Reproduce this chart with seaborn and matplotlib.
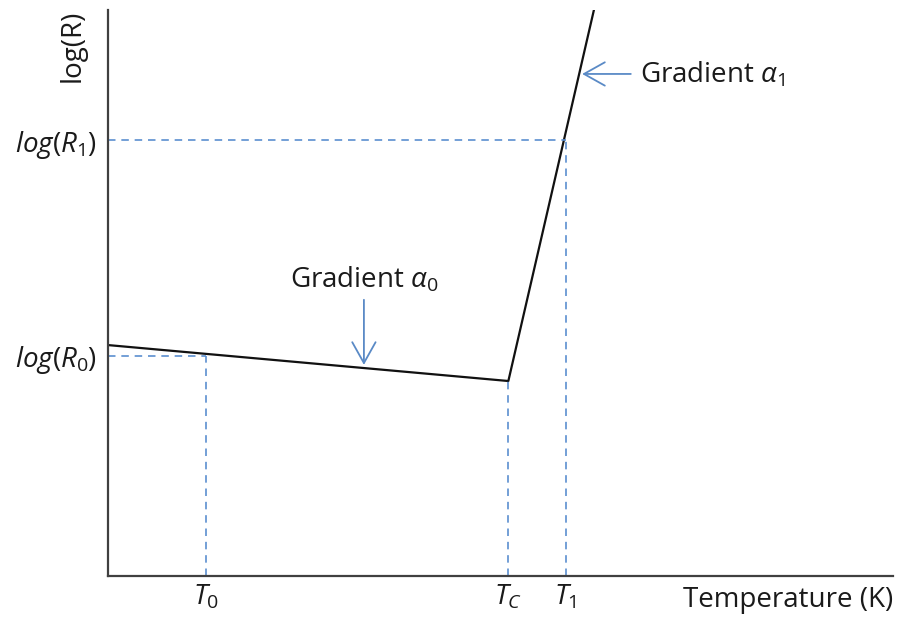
import matplotlib
matplotlib.use("Agg")
import matplotlib.pyplot as plt
import seaborn as sns
import pandas as pd

# ---- data (schematic values) ----
curve_T = [0.0, 51.0, 61.9]
curve_logR = [40.8, 34.45, 100.0]
T0, R0 = 12.5, 38.9
Tc, Rc = 51.0, 34.45
T1, R1 = 58.3, 77.0
xtick_vals = [T0, Tc, T1]
xtick_labels = [r"$T_0$", r"$T_C$", r"$T_1$"]
ytick_vals = [R0, R1]
ytick_labels = [r"$log(R_0)$", r"$log(R_1)$"]
grad1_tip, grad1_tail, grad1_text = (60.4, 88.7), (66.6, 88.7), (67.8, 88.6)
grad0_tip, grad0_tail, grad0_text = (32.6, 37.3), (32.6, 48.8), (32.7, 52.3)

sns.set_style("white")
plt.rcParams["font.family"] = ["Open Sans", "DejaVu Sans"]
plt.rcParams["mathtext.fontset"] = "custom"
plt.rcParams["mathtext.rm"] = "Open Sans"
plt.rcParams["mathtext.it"] = "Open Sans:italic"

fig = plt.figure(figsize=(8.97, 6.19), dpi=100)
ax = fig.add_axes([108/897, 1-576/619, (893-108)/897, (576-10)/619])

blue = "#5b8fd0"
dark = "#1a1a1a"
fs = 20

df = pd.DataFrame({"T": curve_T, "logR": curve_logR})
sns.lineplot(data=df, x="T", y="logR", ax=ax, color="#111111", lw=1.6, sort=False)

dash = dict(color=blue, lw=1.2, ls=(0, (4.5, 3.5)))
ax.plot([0, T1], [R1, R1], **dash)
ax.plot([T1, T1], [0, R1], **dash)
ax.plot([0, T0], [R0, R0], **dash)
ax.plot([T0, T0], [0, R0], **dash)
ax.plot([Tc, Tc], [0, Rc], **dash)

arrow = dict(arrowstyle="->,head_length=0.75,head_width=0.42", color="#5a8ac6",
             lw=1.3, mutation_scale=20, shrinkA=0, shrinkB=0)
ax.annotate("", xy=grad1_tip, xytext=grad1_tail, arrowprops=arrow)
ax.annotate("", xy=grad0_tip, xytext=grad0_tail, arrowprops=arrow)
ax.text(*grad1_text, r"Gradient $\alpha_1$", fontsize=fs, color=dark, ha="left", va="center")
ax.text(*grad0_text, r"Gradient $\alpha_0$", fontsize=fs, color=dark, ha="center", va="center")

ax.set_xlim(0, 100)
ax.set_ylim(0, 100)
ax.set_xticks(xtick_vals)
ax.set_xticklabels(xtick_labels, fontsize=fs, color=dark)
ax.set_yticks(ytick_vals)
ax.set_yticklabels(ytick_labels, fontsize=fs, color=dark)
ax.tick_params(axis="both", length=0)
ax.tick_params(axis="x", pad=5)
ax.tick_params(axis="y", pad=8)

for s in ["top", "right"]:
    ax.spines[s].set_visible(False)
for s in ["left", "bottom"]:
    ax.spines[s].set_color("#404040")
    ax.spines[s].set_linewidth(1.6)

ax.set_xlabel("Temperature (K)", fontsize=fs, color=dark, loc="right")
ax.xaxis.set_label_coords(1.0, -0.018)
ax.set_ylabel("log(R)", fontsize=fs, color=dark, loc="top")
ax.yaxis.set_label_coords(-0.027, 1.0)

fig.savefig("out.png", dpi=100)
